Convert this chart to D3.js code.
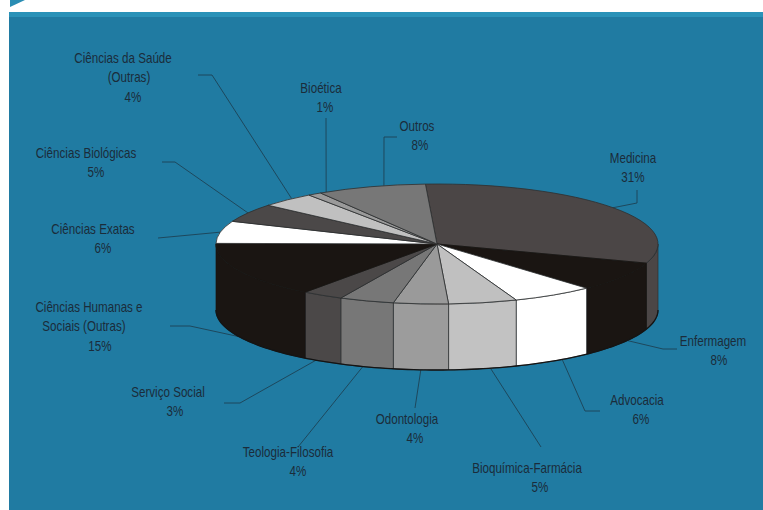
<!DOCTYPE html>
<html>
<head>
<meta charset="utf-8">
<script src="https://cdn.jsdelivr.net/npm/d3@7"></script>
<style>
html,body{margin:0;padding:0;background:#fff;overflow:hidden}
svg{display:block}
text{font-family:"Liberation Sans",Arial,sans-serif;font-size:14px;fill:#1b2c3a}
</style>
</head>
<body>
<svg id="chart" width="763" height="510"></svg>
<script>
// Course distribution, in percent, clockwise from the top of the disc
const courses = ["Medicina","Enfermagem","Advocacia","Bioquímica-Farmácia","Odontologia","Teologia-Filosofia","Serviço Social","Ciências Humanas e Sociais (Outras)","Ciências Exatas","Ciências Biológicas","Ciências da Saúde (Outras)","Bioética","Outros"];
const shares = [31,8,6,5,4,4,3,15,6,5,4,1,8];
const labelLines = [["Medicina"],["Enfermagem"],["Advocacia"],["Bioquímica-Farmácia"],["Odontologia"],["Teologia-Filosofia"],["Serviço Social"],["Ciências Humanas e","Sociais (Outras)"],["Ciências Exatas"],["Ciências Biológicas"],["Ciências da Saúde","(Outras)"],["Bioética"],["Outros"]];
const topColors = ["#4b4646","#1a1512","#ffffff","#c0c0c0","#9a9a9a","#777777","#4b4848","#1a1512","#ffffff","#4b4848","#c0c0c0","#9a9a9a","#777777"];
const sideColors = ["#4b4646","#1a1512","#ffffff","#c2c2c2","#9c9c9c","#777777","#4b4848","#1a1512","#ffffff","#4b4848","#c0c0c0","#9a9a9a","#777777"];

// Horizontal centre of every text line (name lines, then percentage) and y of the first line
const labelCentres = [[633,633],[713,719],[637,641],[527,540],[407,415],[288,298],[168,175],[89,84,100],[93,103],[86,96],[123,129,133],[321,325],[417,420]];
const labelTops = [158,341,400,468,419,452,392,307,229,153,58,88,126];
// Leader start and elbow, plus a small shift in degrees along the rim
const leaderElbows = [[637,190,637,203],[677,349,663,349],[600,411,585,411],[541,447,541,447],[415,408,415,408],[298,447,298,447],[224,403,240,403],[170,326,190,326],[158,238,158,238],[162,162,175,162],[198,75,212,75],[326,118,326,118],[397,137,384,137]];
const rimNudges = [0,-2.4,-2.7,-2,0,1,2,0,0,0,1.5,3.5,3.5];

const W = 763, H = 510;
const cx = 437, cy = 244, rx = 221, ry = 60, depth = 66;
const startOffset = -3 * Math.PI / 180;

const svg = d3.select("#chart");

// Page backdrop: white sheet, blue panel, lighter header band and corner tab
svg.append("rect").attr("width", W).attr("height", H).attr("fill", "#ffffff");
svg.append("rect").attr("x", 9).attr("y", 12).attr("width", W - 9).attr("height", H - 12).attr("fill", "#207ba2");
svg.append("rect").attr("x", 9).attr("y", 12).attr("width", W - 9).attr("height", 5).attr("fill", "#2a92b8");
svg.append("path").attr("d", "M10,0H25L10,7Z").attr("fill", "#2a8db3");

const pie = d3.pie().sort(null).value(d => d).startAngle(startOffset).endAngle(startOffset + 2 * Math.PI);
const slices = pie(shares);

const xAt = a => cx + rx * Math.sin(a);
const yAt = a => cy - ry * Math.cos(a);
const edgeColor = c => c === "#1a1512" ? "#1a1512" : "#2e2e2e";

// Leader lines from each label to the rim of its slice
const leader = d3.line();
slices.forEach((s, i) => {
  const mid = (s.startAngle + s.endAngle) / 2 + rimNudges[i] * Math.PI / 180;
  const front = Math.cos(mid) < 0;
  const e = leaderElbows[i];
  svg.append("path")
    .attr("d", leader([[e[0], e[1]], [e[2], e[3]], [xAt(mid), yAt(mid) + (front ? depth : 0)]]))
    .attr("fill", "none").attr("stroke", "#1d4255").attr("stroke-width", 0.9);
});

// Outer wall of the disc, one section per slice, front half only
const wallArea = d3.area().x(d => xAt(d)).y0(d => yAt(d)).y1(d => yAt(d) + depth);
const wallLayer = svg.append("g");
slices.forEach((s, i) => {
  const a0 = Math.max(s.startAngle, Math.PI / 2), a1 = Math.min(s.endAngle, 3 * Math.PI / 2);
  if (a1 <= a0) return;
  const steps = d3.range(0, 41).map(k => a0 + (a1 - a0) * k / 40);
  wallLayer.append("path").attr("d", wallArea(steps))
    .attr("fill", sideColors[i]).attr("stroke", edgeColor(sideColors[i])).attr("stroke-width", 0.7);
});
// Silhouette stroke along the lower rim
const rimSteps = d3.range(0, 121).map(k => Math.PI / 2 + Math.PI * k / 120);
svg.append("path").attr("d", d3.line().x(d => xAt(d)).y(d => yAt(d) + depth)(rimSteps))
  .attr("fill", "none").attr("stroke", "#141414").attr("stroke-width", 1.3);

// Top face: circular arcs flattened into an ellipse
const arc = d3.arc().innerRadius(0).outerRadius(rx);
const topFace = svg.append("g").attr("transform", `translate(${cx},${cy}) scale(1,${ry / rx})`);
topFace.selectAll("path").data(slices).join("path")
  .attr("d", arc)
  .attr("fill", (d, i) => topColors[i])
  .attr("stroke", (d, i) => edgeColor(topColors[i])).attr("stroke-width", 0.8)
  .attr("vector-effect", "non-scaling-stroke");

// Labels: name lines, then the percentage
const labels = svg.append("g");
slices.forEach((s, i) => {
  const lines = labelLines[i].concat(shares[i] + "%");
  lines.forEach((t, k) => {
    labels.append("text")
      .attr("text-anchor", "middle")
      .attr("transform", `translate(${labelCentres[i][k]},${labelTops[i] + k * 19.4}) scale(0.83,1)`)
      .attr("dy", "0.35em")
      .text(t);
  });
});
</script>
</body>
</html>
